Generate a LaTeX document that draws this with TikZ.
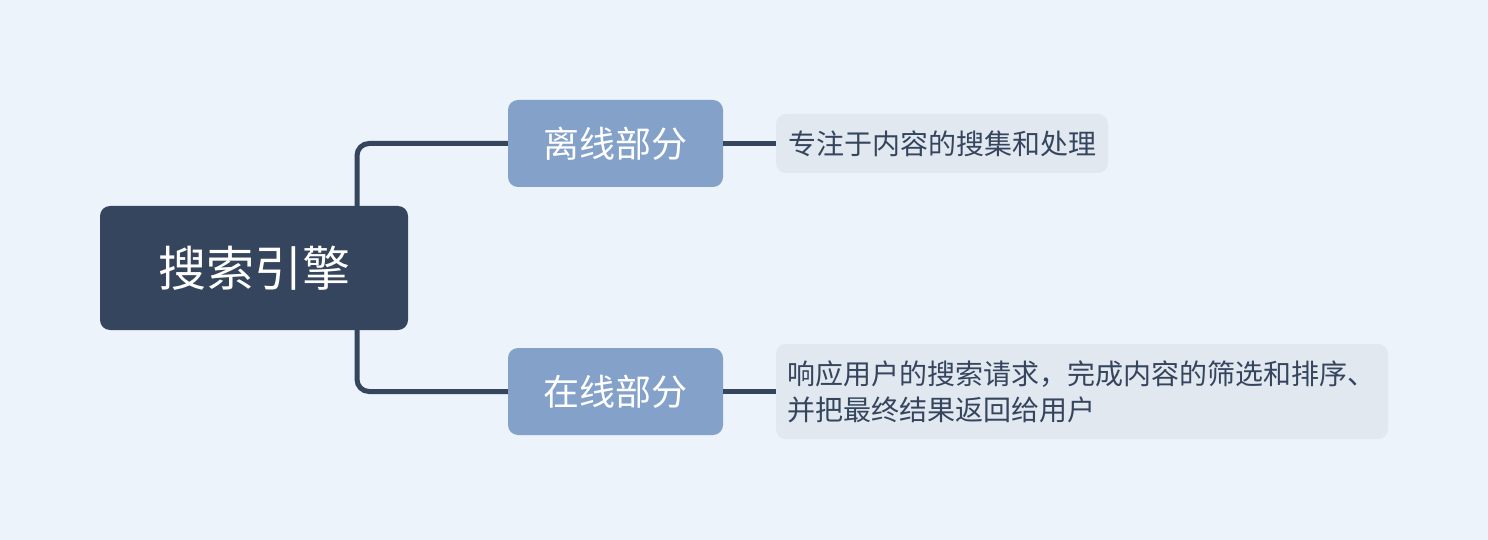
\documentclass[tikz,border=0pt]{standalone}
\usepackage{fontspec}
\setmainfont{Noto Sans CJK SC}
\definecolor{bg}{HTML}{ECF3FA}
\definecolor{rootc}{HTML}{35455D}
\definecolor{branchc}{HTML}{84A2C9}
\definecolor{leafc}{HTML}{E1E8F0}
\begin{document}
\begin{tikzpicture}[x=1pt,y=-1pt,
  rootbox/.style={fill=rootc, rounded corners=10pt, minimum width=308pt, minimum height=124pt, text=white, font=\fontsize{48}{52}\selectfont, inner sep=0pt},
  branchbox/.style={fill=branchc, rounded corners=10pt, minimum width=215pt, minimum height=87pt, text=white, font=\fontsize{36}{40}\selectfont, inner sep=0pt},
  leafbox/.style={fill=leafc, rounded corners=10pt, text=rootc, font=\fontsize{28}{36}\selectfont, inner ysep=0pt, inner xsep=11pt, align=left},
  conn/.style={draw=rootc, line width=5pt, rounded corners=12pt}
]
\fill[bg] (0,0) rectangle (1488,540);
\useasboundingbox (0,0) rectangle (1488,540);
\node[rootbox] (root) at (254,268) {搜索引擎};
\node[branchbox] (b1) at (615.5,143.5) {离线部分};
\node[branchbox] (b2) at (615.5,391.5) {在线部分};
\node[leafbox, minimum width=332pt, minimum height=59pt] (l1) at (942,143.5) {专注于内容的搜集和处理};
\node[leafbox, text width=590pt, minimum height=95pt] (l2) at (1082,391.5) {响应用户的搜索请求，完成内容的筛选和排序、\\并把最终结果返回给用户};
\draw[conn] ([xshift=103pt]root.north) |- (b1.west);
\draw[conn] ([xshift=103pt]root.south) |- (b2.west);
\draw[conn] (b1.east) -- (l1.west);
\draw[conn] (b2.east) -- (l2.west);
\end{tikzpicture}
\end{document}
